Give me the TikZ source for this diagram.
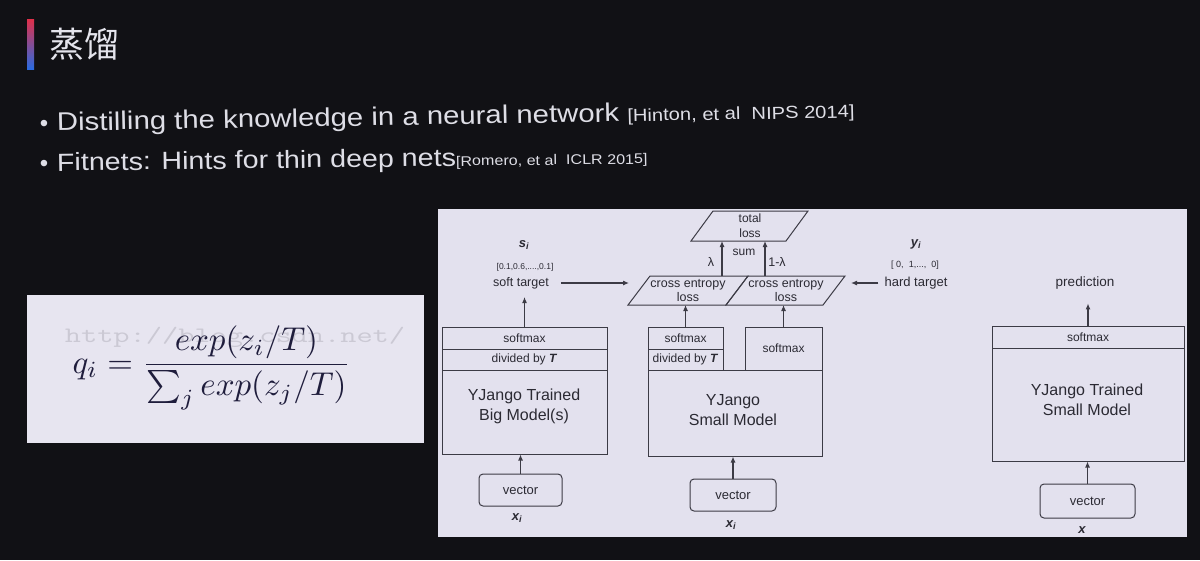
\documentclass[tikz,border=0pt]{standalone}
\usepackage{fontspec}
\setmainfont{Liberation Sans}
\newfontfamily\cjk{Noto Sans CJK SC}
\usetikzlibrary{arrows.meta}

\definecolor{bgC}{HTML}{111115}
\definecolor{titleC}{HTML}{E4E4EC}
\definecolor{bulletC}{HTML}{DEDEE6}
\definecolor{fboxC}{HTML}{E7E5F0}
\definecolor{panelC}{HTML}{E3E1EE}
\definecolor{lineC}{HTML}{3C3B45}
\definecolor{txtC}{HTML}{2B2A33}
\definecolor{mathC}{HTML}{1F1D3C}
\definecolor{wmC}{HTML}{CBC9D4}
\definecolor{barTop}{HTML}{E0304A}
\definecolor{barBot}{HTML}{2A6AE0}

\newcommand\fsz[2]{\fontsize{#1}{#2}\selectfont}

\tikzset{
  dg/.style={draw=lineC, line width=1pt, line join=miter},
  lbl/.style={text=txtC, inner sep=0pt, align=center},
  box/.style={draw=lineC, line width=1pt, inner sep=0pt, text=txtC,
              font=\fsz{12}{14}, align=center},
  vec/.style={box, rounded corners=4pt, font=\fsz{13}{15}},
  bigtxt/.style={lbl, font=\fsz{16}{20}},
  var/.style={lbl, font=\bfseries\itshape\fsz{13}{15}},
  arr/.style={draw=lineC, line width=1.1pt, -{Latex[length=6pt,width=5pt]}},
  slide/.style={text=bulletC, inner sep=0pt, anchor=base west, xscale=1.15},
  dot/.style={text=bulletC, inner sep=0pt, anchor=base, font=\fsz{24}{28}}
}

\begin{document}
\begin{tikzpicture}[x=1pt,y=-1pt]
\useasboundingbox (0,0) rectangle (1200,560);
\fill[bgC] (0,0) rectangle (1200,560);

% title with its coloured bar
\shade[top color=barTop, bottom color=barBot] (27,19) rectangle (34,69);
\node[anchor=west, text=titleC, inner sep=0pt, font=\cjk\fsz{35}{40}] (title) at (49,44) {蒸馏};

% bullet points
\node[dot] (dot1) at (44,131) {•};
\node[slide, rotate=1.1] (b1) at (57,131) {\fsz{25.5}{28}Distilling the knowledge in a neural network {\fsz{17.5}{20}[Hinton, et al\ \ NIPS 2014]}};
\node[dot] (dot2) at (44,171) {•};
\node[slide, rotate=0.8] (b2) at (57,171) {\fsz{24.9}{28}Fitnets: Hints for thin deep nets{\fsz{14}{18}[Romero, et al\ \ ICLR 2015]}};

% temperature softmax formula (set at 10pt, then scaled up)
\fill[fboxC] (27,295) rectangle (424,443);
\node[text=wmC, inner sep=0pt, xscale=1.43, font=\ttfamily\fsz{22}{24}] (wm) at (235,337) {http://blog.csdn.net/};
\node[text=mathC, inner sep=0pt, scale=3.3, font=\fsz{10}{12}] (formula) at (211.5,368)
  {$\displaystyle q_i=\frac{exp(z_i/T)}{\sum_j exp(z_j/T)}$};

% diagram panel
\fill[panelC] (438,209) rectangle (1187,537);

% ---- teacher column ----
\node[var] (si) at (524,245) {s\textsubscript{i}};
\node[lbl, font=\fsz{8.5}{10}] (svals) at (525,267) {[0.1,0.6,....,0.1]};
\node[lbl, font=\fsz{12.5}{14}] (soft) at (521,283) {soft target};

\node[box, minimum width=165, minimum height=22] (bsm) at (524.5,338) {softmax};
\node[box, minimum width=165, minimum height=21] (bdiv) at (524.5,359.5) {divided by \textbf{\textit{T}}};
\node[box, minimum width=165, minimum height=84] (bmain) at (524.5,412) {};
\node[bigtxt] (btxt) at (524,406) {YJango Trained\\Big Model(s)};
\node[vec, minimum width=83, minimum height=32] (bvec) at (520.5,490) {vector};
\node[var] (bx) at (517,518) {x\textsubscript{i}};

% ---- student column ----
\node[box, minimum width=75, minimum height=22] (ssm) at (685.5,338) {softmax};
\node[box, minimum width=75, minimum height=21] (sdiv) at (685.5,359.5) {divided by \textbf{\textit{T}}};
\node[box, minimum width=77, minimum height=43] (ssm2) at (783.5,348.5) {softmax};
\node[box, minimum width=174, minimum height=86] (smain) at (735,413) {};
\node[bigtxt] (stxt) at (733,410) {YJango\\Small Model};
\node[vec, minimum width=86, minimum height=32] (svec) at (733,495) {vector};
\node[var] (sx) at (731,525) {x\textsubscript{i}};

% loss parallelograms
\coordinate (ce1-bl) at (628,305);
\coordinate (tot-bl) at (691,241);
\draw[dg] (ce1-bl) -- (650,276) -- (748,276) -- (726,305) -- cycle;
\draw[dg] (726,305) -- (748,276) -- (845,276) -- (823,305) -- cycle;
\draw[dg] (tot-bl) -- (713,211) -- (808,211) -- (786,241) -- cycle;
\node[lbl, font=\fsz{12.5}{14}] (ce1) at (688,290.5) {cross entropy\\loss};
\node[lbl, font=\fsz{12.5}{14}] (ce2) at (786,290.5) {cross entropy\\loss};
\node[lbl, font=\fsz{12}{15}] (tot) at (750,225.5) {total\\loss};
\node[lbl, font=\fsz{12}{14}] (sum) at (744,252) {sum};
\node[lbl, font=\fsz{12.5}{14}] (lam) at (711,262) {λ};
\node[lbl, font=\fsz{12.5}{14}] (olam) at (777,262) {1-λ};

% ---- hard target ----
\node[var] (yi) at (916,244) {y\textsubscript{i}};
\node[lbl, font=\fsz{9}{11}] (hvals) at (915,265) {[\ 0,\ \ 1,...,\ \ 0]};
\node[lbl, font=\fsz{13}{15}] (hard) at (916,283) {hard target};

% ---- trained student column ----
\node[lbl, font=\fsz{13.5}{15}] (pred) at (1085,283) {prediction};
\node[box, minimum width=192, minimum height=22] (rsm) at (1088,337) {softmax};
\node[box, minimum width=192, minimum height=113] (rmain) at (1088,404.5) {};
\node[bigtxt] (rtxt) at (1087,400) {YJango Trained\\Small Model};
\node[vec, minimum width=95, minimum height=34] (rvec) at (1087.5,501) {vector};
\node[var] (rx) at (1082,530) {x};

% connectors
\coordinate (stip) at (629,283);
\coordinate (htip) at (851,283);
\coordinate (lamA) at (722,276);
\coordinate (lamB) at (765,276);
\draw[arr, shorten >=8pt] (bsm.north) -- (bsm.north |- soft.south);
\draw[arr, shorten <=12pt] (soft.east) -- (stip);
\draw[arr, shorten <=6pt] (hard.west) -- (htip);
\draw[arr] (ssm.north) -- (ssm.north |- ce1-bl);
\draw[arr] (ssm2.north) -- (ssm2.north |- ce1-bl);
\draw[arr] (lamA) -- (lamA |- tot-bl);
\draw[arr] (lamB) -- (lamB |- tot-bl);
\draw[arr] (bvec.north) -- (bvec.north |- bmain.south);
\draw[arr] (svec.north) -- (svec.north |- smain.south);
\draw[arr] (rvec.north) -- (rvec.north |- rmain.south);
\draw[arr, shorten >=14pt] (rsm.north) -- (rsm.north |- pred.south);
\end{tikzpicture}
\end{document}
